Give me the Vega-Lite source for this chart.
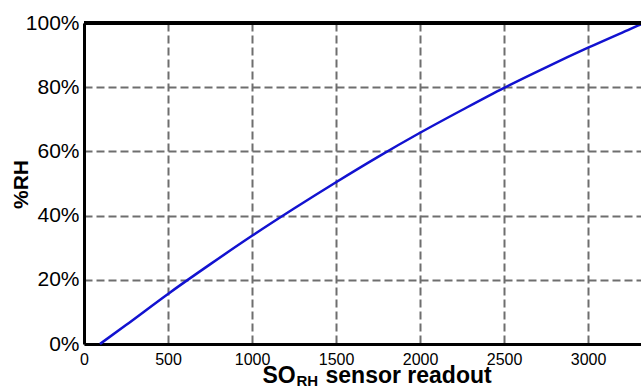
{
  "$schema": "https://vega.github.io/schema/vega-lite/v6.json",
  "width": 557,
  "height": 321,
  "autosize": {"type": "none"},
  "padding": {"left": 84, "top": 23, "right": 0, "bottom": 44},
  "background": "white",
  "data": {"values": [
    {"so": 95, "rh": 0},
    {"so": 250, "rh": 5.9},
    {"so": 500, "rh": 15.6},
    {"so": 750, "rh": 24.8},
    {"so": 1000, "rh": 33.7},
    {"so": 1250, "rh": 42.2},
    {"so": 1500, "rh": 50.4},
    {"so": 1750, "rh": 58.3},
    {"so": 2000, "rh": 65.8},
    {"so": 2250, "rh": 72.9},
    {"so": 2500, "rh": 79.8},
    {"so": 2750, "rh": 86.2},
    {"so": 3000, "rh": 92.3},
    {"so": 3250, "rh": 98.1},
    {"so": 3315, "rh": 99.6}
  ]},
  "layer": [
    {
      "mark": {"type": "line", "color": "#1212d0", "strokeWidth": 2.5, "interpolate": "monotone"},
      "encoding": {
        "x": {"field": "so", "type": "quantitative", "scale": {"domain": [0, 3315], "nice": false},
          "axis": {"orient": "bottom", "values": [0, 500, 1000, 1500, 2000, 2500, 3000], "format": "d", "grid": true, "labels": true, "domain": true,
            "title": "SO", "titleX": 178, "titleY": 38, "titleAlign": "left", "titleBaseline": "alphabetic",
            "titleFontSize": 23, "titleFontWeight": "bold"}},
        "y": {"field": "rh", "type": "quantitative", "scale": {"domain": [0, 100], "nice": false},
          "axis": {
            "values": [0, 20, 40, 60, 80, 100],
            "labelExpr": "datum.value + '%'",
            "labelFontSize": 21,
            "labelPadding": 5,
            "grid": true,
            "title": "%RH",
            "titleFontSize": 21,
            "titleFontWeight": "bold",
            "titleAngle": -90,
            "titleX": -57,
            "titleY": 161,
            "titleAlign": "center",
            "titleBaseline": "alphabetic"
          }}
      }
    },
    {
      "mark": {"type": "rule", "color": "black", "strokeWidth": 3},
      "encoding": {"y": {"datum": 100, "type": "quantitative"}}
    },
    {
      "mark": {"type": "line", "opacity": 0},
      "encoding": {
        "x": {"field": "so", "type": "quantitative",
          "axis": {"orient": "bottom", "grid": false, "labels": false, "domain": false, "ticks": false,
            "title": "RH", "titleX": 212, "titleY": 41, "titleAlign": "left", "titleBaseline": "alphabetic",
            "titleFontSize": 15, "titleFontWeight": "bold"}},
        "y": {"field": "rh", "type": "quantitative"}
      }
    },
    {
      "mark": {"type": "line", "opacity": 0},
      "encoding": {
        "x": {"field": "so", "type": "quantitative",
          "axis": {"orient": "bottom", "grid": false, "labels": false, "domain": false, "ticks": false,
            "title": "sensor readout", "titleX": 241, "titleY": 38, "titleAlign": "left", "titleBaseline": "alphabetic",
            "titleFontSize": 23, "titleFontWeight": "bold"}},
        "y": {"field": "rh", "type": "quantitative"}
      }
    }
  ],
  "resolve": {"axis": {"x": "independent"}},
  "config": {
    "view": {"stroke": null},
    "font": "Liberation Sans",
    "axis": {
      "labelFont": "Liberation Sans",
      "titleFont": "Liberation Sans",
      "labelColor": "black",
      "titleColor": "black",
      "ticks": false,
      "domainColor": "black",
      "domainWidth": 3,
      "gridColor": "#6e6e6e",
      "gridDash": [8, 4],
      "gridWidth": 2,
      "gridOpacity": 1
    },
    "axisX": {"labelFontSize": 16, "labelPadding": 7, "labelFlush": false}
  }
}
